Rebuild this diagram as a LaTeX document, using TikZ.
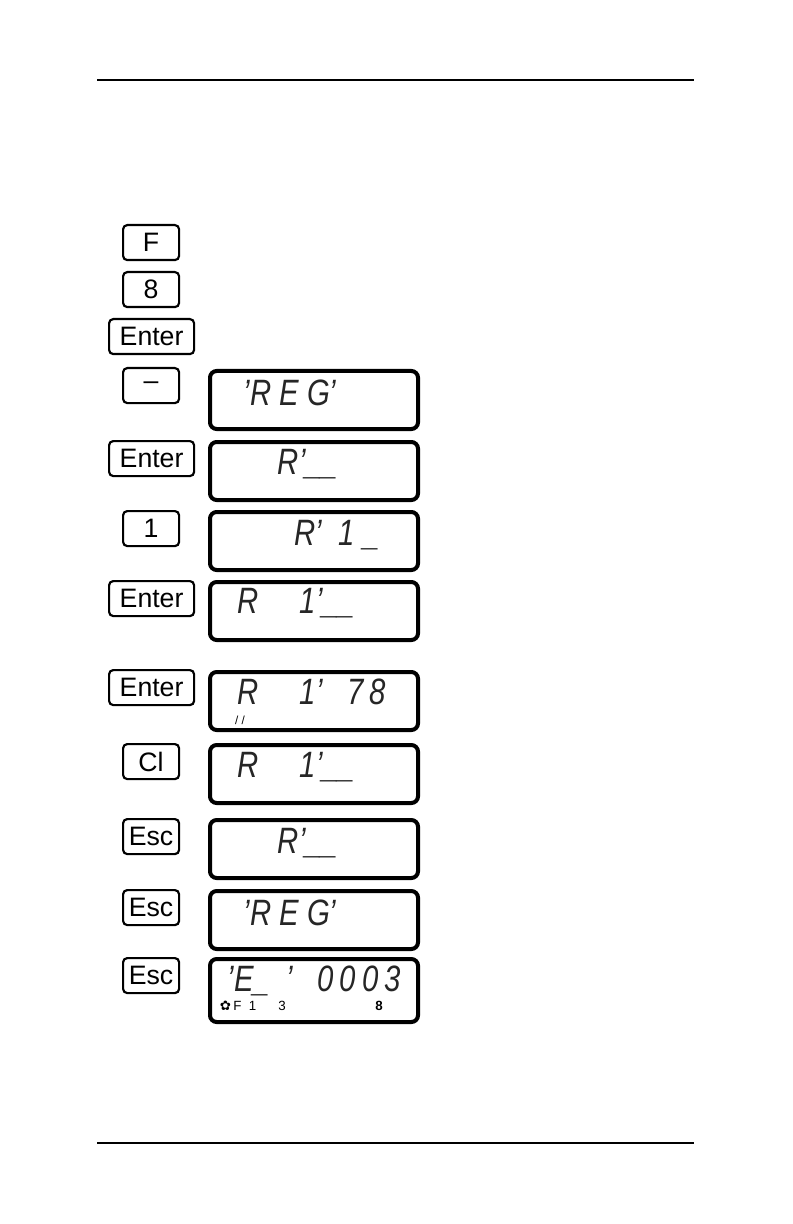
\documentclass[tikz,border=0pt]{standalone}
\usepackage{fontspec}
\setmainfont{Liberation Sans}
\newfontfamily\seg{DejaVu Sans}
\begin{document}
\begin{tikzpicture}[x=0.6pt,y=-0.6pt,
 key/.style={draw,line width=1.3pt,rounded corners=2.5pt,anchor=north west,inner sep=0pt,font=\fontsize{16}{16}\selectfont},
 disp/.style={draw,line width=2.4pt,rounded corners=4pt,anchor=north west,minimum width=124.8pt,minimum height=34.8pt,inner sep=0pt},
 lcd/.style={font=\fontsize{22}{22}\selectfont\itshape\addfontfeature{FakeStretch=0.8}, text=black!85},
 small/.style={font=\fontsize{7}{7}\selectfont}]
\useasboundingbox (0,0) rectangle (792,1224);
\draw[line width=0.8pt] (97,80) -- (694,80);
\draw[line width=0.8pt] (97,1143) -- (694,1143);
% keys
\newcommand\kkey[5]{\node[key,minimum width=#3*0.6pt,minimum height=21pt] (#1) at (#2) {#4};}
\kkey{k1}{122,224}{56}{F}{}
\kkey{k2}{122,271}{56}{8}{}
\kkey{k3}{108,318}{85}{Enter}{}
\kkey{k4}{122,367}{56}{--}{}
\kkey{k5}{108,440}{85}{Enter}{}
\kkey{k6}{122,510}{56}{1}{}
\kkey{k7}{108,580}{85}{Enter}{}
\kkey{k8}{108,669}{85}{Enter}{}
\kkey{k9}{122,743}{56}{Cl}{}
\kkey{k10}{122,818}{56}{Esc}{}
\kkey{k11}{122,889}{56}{Esc}{}
\kkey{k12}{122,957}{56}{Esc}{}
% displays
\node[disp] (d1) at (208,369) {};
\node[disp] (d2) at (208,440) {};
\node[disp] (d3) at (208,510) {};
\node[disp] (d4) at (208,580) {};
\node[disp] (d5) at (208,670) {};
\node[disp] (d6) at (208,743) {};
\node[disp] (d7) at (208,818) {};
\node[disp] (d8) at (208,889) {};
\node[disp,minimum height=37.8pt] (d9) at (208,957) {};
\node[lcd] (t1) at (290,393) {'R E G'};
\node[lcd] (t2) at (308,464) {R'\_\_};
\node[lcd] (t3) at (337,535) {R'\ \ 1\ \_};
\node[lcd,anchor=west] (t4) at (232,603) {R\ \ \ \ \ 1'\_\_};
\node[lcd,anchor=west] (t5) at (232,692) {R\ \ \ \ \ 1'\ \ \ 7\,8};
\node[small] (t5b) at (240,720) {/ /};
\node[lcd,anchor=west] (t6) at (232,767) {R\ \ \ \ \ 1'\_\_};
\node[lcd] (t7) at (308,843) {R'\_\_};
\node[lcd] (t8) at (290,913) {'R E G'};
\node[lcd,anchor=west] (t9) at (222,981) {'E\_\ \ '\ \ \ 0\,0\,0\,3};
\node[anchor=west,font=\fontsize{8}{8}\selectfont] (t9b) at (214,1006) {{\seg ✿}\,F\ \ 1\ \ \ \ \ \ 3};
\node[font=\fontsize{8}{8}\selectfont\bfseries] (t9c) at (379,1006) {8};
\end{tikzpicture}
\end{document}
